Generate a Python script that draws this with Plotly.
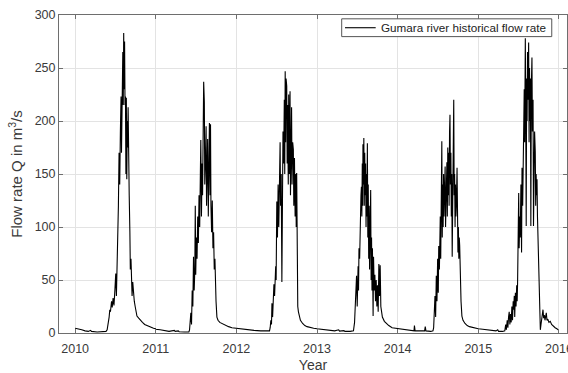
import plotly.graph_objects as go

# ---- Data (day of year, flow rate in m^3/s) ----
doy_2010 = [0, 15, 30, 45, 60, 70, 74, 100, 130, 140, 145, 150, 154, 157, 160, 165, 168, 172, 176, 180, 184, 187,
            190, 193, 196, 199, 202, 205, 208, 210, 213, 216, 218, 220, 222, 224, 226, 228, 230, 232, 234, 236,
            238, 240, 242, 245, 248, 250, 253, 256, 258, 261, 264, 268, 272, 277, 280, 288, 295, 305, 315, 325,
            335, 345, 355, 364]
q_2010 = [4.5, 4, 3, 2, 1.5, 2.5, 1.5, 1, 1, 1.5, 3, 8, 15, 22, 20, 30, 24, 33, 26, 40, 56, 35,
          60, 90, 120, 170, 140, 190, 223, 170, 240, 265, 215, 283, 230, 275, 215, 223, 150, 222, 145, 200,
          175, 213, 140, 130, 95, 60, 70, 45, 35, 48, 38, 30, 25, 18, 16, 14, 12, 10, 8, 7,
          6, 5, 4.5, 4]

doy_2011 = [0, 20, 40, 60, 84, 88, 102, 106, 130, 150, 153, 156, 159, 162, 165, 168, 171, 174, 177, 179, 181, 184,
            187, 190, 193, 196, 199, 202, 204, 207, 210, 212, 214, 217, 220, 222, 225, 228, 230, 233, 235, 238,
            240, 243, 246, 248, 250, 253, 256, 259, 262, 265, 268, 270, 273, 277, 282, 290, 300, 315, 330, 345,
            364]
q_2011 = [3.5, 3, 2, 1.5, 2.5, 1.5, 2, 1.2, 1, 1, 3, 12, 19, 8, 40, 25, 72, 40, 60, 120, 55, 90,
          70, 110, 85, 130, 100, 150, 182, 110, 160, 130, 170, 237, 218, 140, 160, 195, 120, 150, 183, 110,
          140, 198, 130, 197, 120, 95, 125, 80, 95, 60, 70, 50, 30, 15, 12, 10, 9, 7, 6, 5,
          4.5]

doy_2012 = [0, 20, 50, 80, 110, 140, 150, 153, 156, 159, 161, 164, 167, 170, 173, 176, 178, 180, 183, 186, 189,
            192, 195, 198, 200, 203, 206, 208, 211, 214, 217, 219, 221, 223, 225, 228, 230, 232, 235, 237, 240,
            243, 245, 248, 250, 252, 255, 258, 260, 263, 266, 269, 271, 273, 275, 278, 281, 284, 290, 300, 310,
            320, 335, 350, 365]
q_2012 = [4, 3.5, 3, 2.5, 2, 2, 2, 5, 12, 8, 28, 15, 30, 46, 35, 62, 63, 50, 124, 90, 140,
          100, 160, 180, 120, 150, 48, 130, 190, 160, 220, 150, 247, 180, 240, 233, 160, 215, 140, 225, 150,
          228, 130, 200, 213, 140, 180, 173, 120, 165, 110, 150, 100, 151, 32, 25, 20, 16, 12, 9, 7,
          6, 5, 4.5, 4]

doy_2013 = [0, 20, 50, 80, 98, 102, 122, 126, 150, 165, 170, 173, 176, 179, 182, 184, 186, 188, 190, 193, 195,
            197, 199, 201, 203, 205, 207, 208, 210, 212, 214, 216, 218, 220, 222, 224, 226, 228, 230, 232, 234,
            236, 238, 240, 243, 245, 247, 249, 251, 254, 256, 259, 262, 265, 268, 271, 274, 277, 280, 283, 286,
            289, 292, 296, 305, 315, 325, 340, 355, 365]
q_2013 = [4, 3.5, 2.5, 2, 3, 1.8, 2.2, 1.5, 1.5, 2, 10, 30, 45, 54, 25, 50, 63, 40, 80, 70, 107,
          85, 130, 138, 110, 160, 120, 178, 140, 184, 120, 170, 130, 160, 100, 150, 110, 179, 90, 140, 70,
          120, 60, 110, 135, 50, 90, 40, 80, 16, 72, 40, 55, 30, 50, 25, 45, 20, 65, 35, 64,
          25, 20, 15, 11, 9, 7, 5, 4.5, 4]

doy_2014 = [0, 20, 50, 74, 76, 79, 100, 122, 125, 128, 150, 160, 163, 166, 169, 172, 175, 178, 181, 184, 186,
            189, 191, 193, 195, 197, 200, 202, 204, 206, 208, 210, 212, 215, 217, 219, 221, 223, 225, 227, 229,
            231, 233, 235, 237, 239, 241, 243, 245, 247, 249, 251, 254, 256, 258, 260, 262, 264, 266, 269, 271,
            273, 275, 277, 279, 281, 284, 287, 291, 296, 305, 315, 325, 340, 355, 365]
q_2014 = [4, 3.5, 2.5, 2, 7, 2, 2, 2, 6, 2, 1.5, 2, 5, 20, 35, 15, 54, 30, 70, 38, 82,
          60, 100, 110, 70, 130, 181, 90, 140, 100, 150, 110, 140, 157, 100, 145, 120, 161, 110, 175, 130,
          170, 120, 190, 206, 140, 170, 110, 150, 72, 140, 160, 220, 130, 150, 100, 140, 110, 120, 156, 90,
          76, 100, 70, 90, 82, 48, 30, 16, 12, 9, 7, 6, 5, 4.5, 4]

doy_2015 = [0, 20, 50, 80, 88, 92, 110, 120, 124, 127, 131, 134, 137, 140, 143, 146, 149, 152, 155, 158, 160,
            163, 165, 168, 171, 174, 176, 178, 180, 183, 185, 188, 190, 193, 196, 198, 201, 204, 206, 208, 210,
            213, 215, 217, 219, 221, 223, 225, 228, 230, 232, 234, 236, 238, 240, 243, 245, 248, 250, 252, 255,
            258, 260, 262, 264, 266, 268, 270, 273, 276, 279, 281, 284, 287, 290, 293, 296, 299, 302, 305, 308,
            311, 315, 320, 326, 332, 340, 348, 356, 362]
q_2015 = [4, 3.5, 2.5, 2, 3, 1.5, 1.5, 2, 8, 3, 12, 5, 15, 20, 8, 18, 10, 25, 12, 30, 22,
          35, 15, 38, 25, 45, 30, 48, 70, 132, 80, 110, 90, 140, 76, 156, 120, 190, 160, 230, 180,
          278, 200, 101, 240, 200, 265, 220, 274, 180, 250, 200, 240, 101, 230, 260, 190, 220, 101, 180, 190,
          171, 120, 150, 130, 145, 110, 90, 60, 40, 20, 3, 8, 15, 18, 22, 14, 17, 12, 15, 19,
          12, 13, 10, 11, 8, 6, 5, 4, 3]

years = [2010, 2011, 2012, 2013, 2014, 2015]
doy_all = [doy_2010, doy_2011, doy_2012, doy_2013, doy_2014, doy_2015]
q_all = [q_2010, q_2011, q_2012, q_2013, q_2014, q_2015]

x_ticks = [2010, 2011, 2012, 2013, 2014, 2015, 2016]
y_ticks = [0, 50, 100, 150, 200, 250, 300]
series_name = "Gumara river historical flow rate"

x_vals, y_vals = [], []
for yr, dd, qq in zip(years, doy_all, q_all):
    for d, q in zip(dd, qq):
        x_vals.append(yr + d / 365.25)
        y_vals.append(q)

fig = go.Figure()
fig.add_trace(go.Scatter(
    x=x_vals, y=y_vals, mode="lines",
    line=dict(color="black", width=1.1),
    name=series_name,
    showlegend=False,
))

axis_col = "#6e6e6e"
grid_col = "#e3e3e3"
font_col = "#3a3a3a"

fig.update_layout(
    width=568, height=373,
    margin=dict(l=59, r=1, t=15, b=40),
    paper_bgcolor="white", plot_bgcolor="white",
    font=dict(family="Arial, Liberation Sans, Helvetica, sans-serif", color=font_col, size=12.5),
    showlegend=False,
)

# legend box (MATLAB style, compact)
lx0, lx1, ly0, ly1 = 0.5565, 0.970, 0.932, 0.988
ly_mid = (ly0 + ly1) / 2
fig.add_shape(type="rect", xref="paper", yref="paper", x0=lx0, x1=lx1, y0=ly0, y1=ly1,
              line=dict(color="#555555", width=1), fillcolor="white", layer="above")
fig.add_shape(type="line", xref="paper", yref="paper", x0=0.563, x1=0.6234, y0=ly_mid, y1=ly_mid,
              line=dict(color="black", width=1.1), layer="above")
fig.add_annotation(xref="paper", yref="paper", x=0.630, y=ly_mid, xanchor="left", yanchor="middle",
                   text=series_name, showarrow=False,
                   font=dict(size=11.7, color="#222222"))

fig.update_xaxes(
    range=[2009.8, 2016.1],
    tickmode="array", tickvals=x_ticks, ticktext=[str(t) for t in x_ticks],
    showgrid=True, gridcolor=grid_col, gridwidth=1,
    showline=True, linecolor=axis_col, linewidth=1, mirror="allticks",
    ticks="inside", ticklen=4, tickcolor=axis_col,
    zeroline=False,
    automargin=False,
    ticklabeloverflow="allow",
    ticklabelstandoff=4,
    title=dict(text="Year", font=dict(size=14, color=font_col), standoff=12),
    tickfont=dict(size=12.5, color=font_col),
)
fig.update_yaxes(
    range=[0, 300],
    tickmode="array", tickvals=y_ticks, ticktext=[str(t) for t in y_ticks],
    showgrid=True, gridcolor=grid_col, gridwidth=1,
    showline=True, linecolor=axis_col, linewidth=1, mirror="allticks",
    ticks="inside", ticklen=4, tickcolor=axis_col,
    zeroline=False,
    automargin=False,
    title=dict(text="Flow rate Q in m<sup>3</sup>/s", font=dict(size=15, color=font_col), standoff=8),
    tickfont=dict(size=12.5, color=font_col),
)

fig.write_html("out.html")
